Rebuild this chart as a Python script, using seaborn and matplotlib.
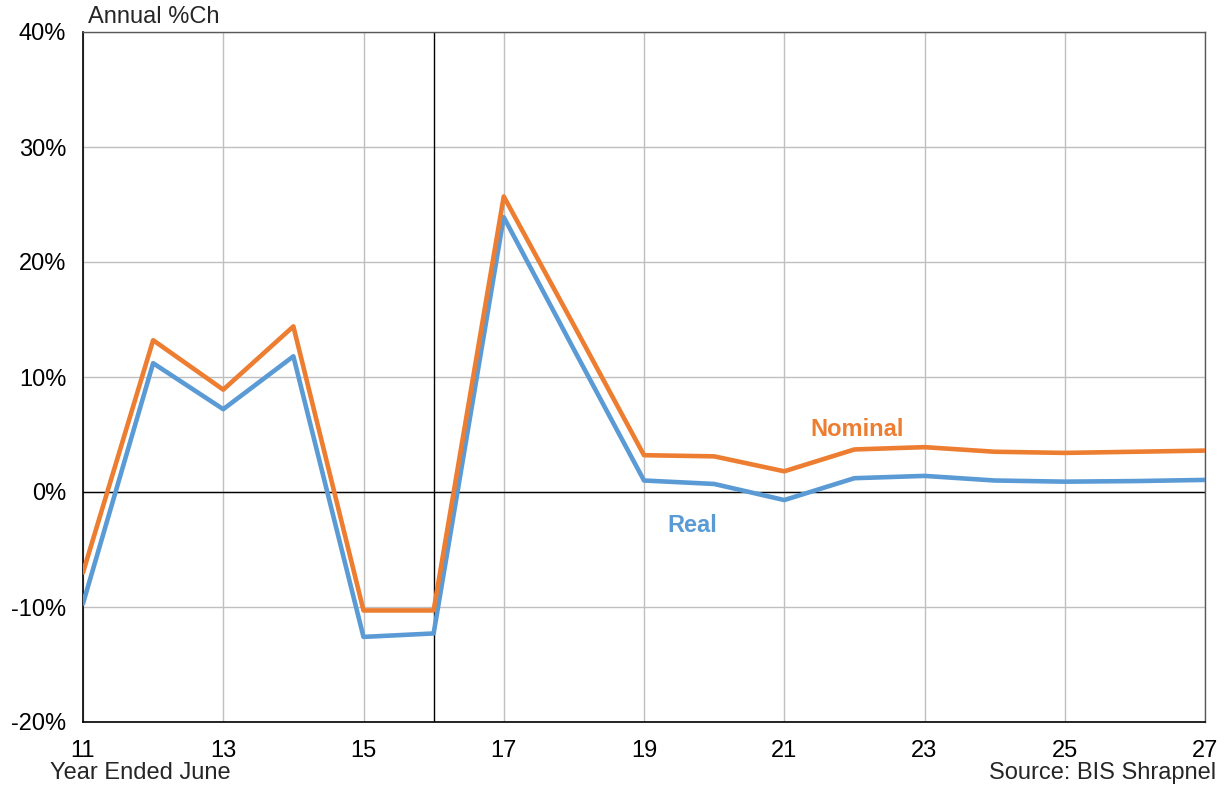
import matplotlib
matplotlib.use("Agg")
import matplotlib.pyplot as plt
import seaborn as sns
import pandas as pd

# Year ended June (two-digit), annual % change
years = [11, 12, 13, 14, 15, 16, 17, 18, 19, 20, 21, 22, 23, 24, 25, 26, 27]
nominal = [-7.0, 13.2, 8.9, 14.4, -10.3, -10.3, 25.7, 14.5, 3.2, 3.1, 1.8, 3.7, 3.9, 3.5, 3.4, 3.5, 3.6]
real = [-9.7, 11.2, 7.2, 11.8, -12.6, -12.3, 23.9, 12.4, 1.0, 0.7, -0.7, 1.2, 1.4, 1.0, 0.9, 0.95, 1.05]

x_ticks = [11, 13, 15, 17, 19, 21, 23, 25, 27]
y_ticks = [-20, -10, 0, 10, 20, 30, 40]
y_tick_labels = ["-20%", "-10%", "0%", "10%", "20%", "30%", "40%"]

ORANGE = "#ED7D31"
BLUE = "#5B9BD5"
FS = 17

sns.set_theme(style="white")
plt.rcParams["font.family"] = ["Liberation Sans", "DejaVu Sans"]

df = pd.DataFrame({"year": years * 2,
                   "value": nominal + real,
                   "series": ["Nominal"] * len(years) + ["Real"] * len(years)})

fig = plt.figure(figsize=(12.26, 7.89), dpi=100)
ax = fig.add_axes([83 / 1226, 1 - 722 / 789, (1205 - 83) / 1226, (722 - 32) / 789])

# grid
for xv in x_ticks:
    ax.axvline(xv, color="#BFBFBF", lw=1.0, zorder=0)
for yv in y_ticks:
    ax.axhline(yv, color="#BFBFBF", lw=1.0, zorder=0)
ax.axhline(0, color="black", lw=1.0, zorder=1)
ax.axvline(16, color="black", lw=1.0, zorder=1)

sns.lineplot(data=df, x="year", y="value", hue="series",
             palette={"Nominal": ORANGE, "Real": BLUE},
             hue_order=["Real", "Nominal"],
             lw=3.3, legend=False, ax=ax, zorder=3)

ax.set_xlim(11, 27)
ax.set_ylim(-20, 40)
ax.set_xticks(x_ticks)
ax.set_xticklabels([str(v) for v in x_ticks])
ax.set_yticks(y_ticks)
ax.set_yticklabels(y_tick_labels)
ax.tick_params(axis="both", length=0, labelsize=FS, colors="black")
ax.tick_params(axis="x", pad=13)
ax.tick_params(axis="y", pad=12)
ax.set_xlabel("")
ax.set_ylabel("")

for side in ["left", "bottom"]:
    ax.spines[side].set_color("black")
    ax.spines[side].set_linewidth(1.2)
for side in ["top", "right"]:
    ax.spines[side].set_color("#595959")
    ax.spines[side].set_linewidth(1.0)

ax.text(21.37, 5.4, "Nominal", color=ORANGE, fontsize=FS, fontweight="bold",
        ha="left", va="center")
ax.text(19.33, -2.9, "Real", color=BLUE, fontsize=FS, fontweight="bold",
        ha="left", va="center")

fig.text(88 / 1226, 1 - 17 / 789, "Annual %Ch", fontsize=FS, ha="left", va="center")
fig.text(50 / 1226, 1 - 773 / 789, "Year Ended June", fontsize=FS, ha="left", va="center")
fig.text(1216 / 1226, 1 - 773 / 789, "Source: BIS Shrapnel", fontsize=FS, ha="right", va="center")

fig.savefig("out.png", dpi=100, facecolor="white")
